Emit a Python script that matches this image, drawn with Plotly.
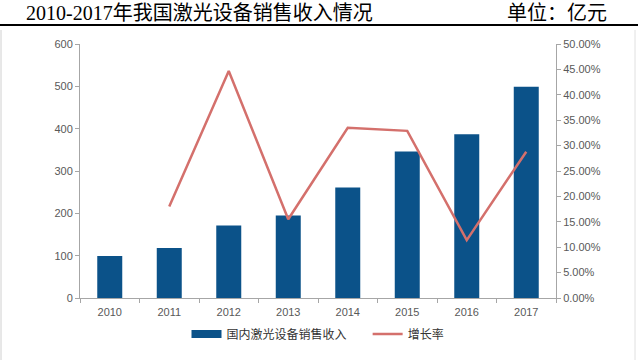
import plotly.graph_objects as go

years = ["2010", "2011", "2012", "2013", "2014", "2015", "2016", "2017"]
revenue = [99, 118, 171, 195, 261, 346, 387, 499]
growth = [None, 0.18, 0.447, 0.155, 0.335, 0.329, 0.114, 0.288]

bar_name = "国内激光设备销售收入"
line_name = "增长率"
title_text = "2010-2017年我国激光设备销售收入情况"
unit_text = "单位：亿元"

W, H = 640, 360
L, R, T, B = 80, 84, 44, 62
pw, ph = W - L - R, H - T - B

bar_color = "#0b5289"
line_color = "#d4706c"

fig = go.Figure()
fig.add_trace(go.Bar(x=years, y=revenue, name=bar_name, marker_color=bar_color,
                     marker_line_width=0, yaxis="y", showlegend=False))
# legend-only entry with a wide flat swatch like the original
fig.add_trace(go.Scatter(x=[None], y=[None], name=bar_name + "      ", mode="lines",
                         line=dict(color=bar_color, width=8), yaxis="y"))
fig.add_trace(go.Scatter(x=years, y=growth, name=line_name, mode="lines",
                         line=dict(color=line_color, width=2.5), yaxis="y2",
                         connectgaps=False))

def px_x(p):
    return (p - L) / pw

def px_y(p):
    return (H - B - p) / ph

tick_font = dict(family="Liberation Sans, Arial, sans-serif", size=11, color="#595959")

fig.update_layout(
    width=W, height=H,
    margin=dict(l=L, r=R, t=T, b=B, pad=0, autoexpand=False),
    paper_bgcolor="white", plot_bgcolor="white",
    bargap=0.58,
    showlegend=True,
    legend=dict(orientation="h", x=0.5, xanchor="center", y=px_y(334), yanchor="middle",
                font=dict(family="Noto Sans CJK SC", size=12, color="#333333"),
                itemwidth=30, traceorder="normal"),
    xaxis=dict(type="category", showline=True, linecolor="#a6a6a6", linewidth=1,
               ticks="outside", tickcolor="#a6a6a6", ticklen=4,
               tickson="boundaries", tickfont=tick_font, showgrid=False,
               zeroline=False, ticklabelstandoff=4),
    yaxis=dict(range=[0, 600], dtick=100, showline=True, linecolor="#a6a6a6",
               linewidth=1, ticks="outside", tickcolor="#a6a6a6", ticklen=4,
               tickfont=tick_font, showgrid=False, zeroline=False),
    yaxis2=dict(range=[0, 0.5], dtick=0.05, tickformat=".2%", overlaying="y",
                side="right", showline=True, linecolor="#a6a6a6", linewidth=1,
                ticks="outside", tickcolor="#a6a6a6", ticklen=4,
                tickfont=tick_font, showgrid=False, zeroline=False),
    font=dict(family="Noto Sans CJK SC"),
)

fig.add_annotation(text=title_text, xref="paper", yref="paper",
                   x=px_x(24), y=px_y(13), xanchor="left", yanchor="middle",
                   showarrow=False,
                   font=dict(family="Liberation Serif, Noto Sans CJK SC", size=20, color="black"))
fig.add_annotation(text=unit_text, xref="paper", yref="paper",
                   x=px_x(609), y=px_y(13), xanchor="right", yanchor="middle",
                   showarrow=False,
                   font=dict(family="Liberation Serif, Noto Sans CJK SC", size=20, color="black"))

fig.add_shape(type="line", xref="paper", yref="paper",
              x0=px_x(0), x1=px_x(638), y0=px_y(25), y1=px_y(25),
              line=dict(color="black", width=2))
fig.add_shape(type="line", xref="paper", yref="paper",
              x0=px_x(1), x1=px_x(1), y0=px_y(30), y1=px_y(360),
              line=dict(color="#d0d0d0", width=1))
fig.add_shape(type="line", xref="paper", yref="paper",
              x0=px_x(635), x1=px_x(635), y0=px_y(30), y1=px_y(360),
              line=dict(color="#e0e0e0", width=1))

fig.write_html("out.html", config={"displayModeBar": False},
               post_script="document.body.style.margin='0';")
